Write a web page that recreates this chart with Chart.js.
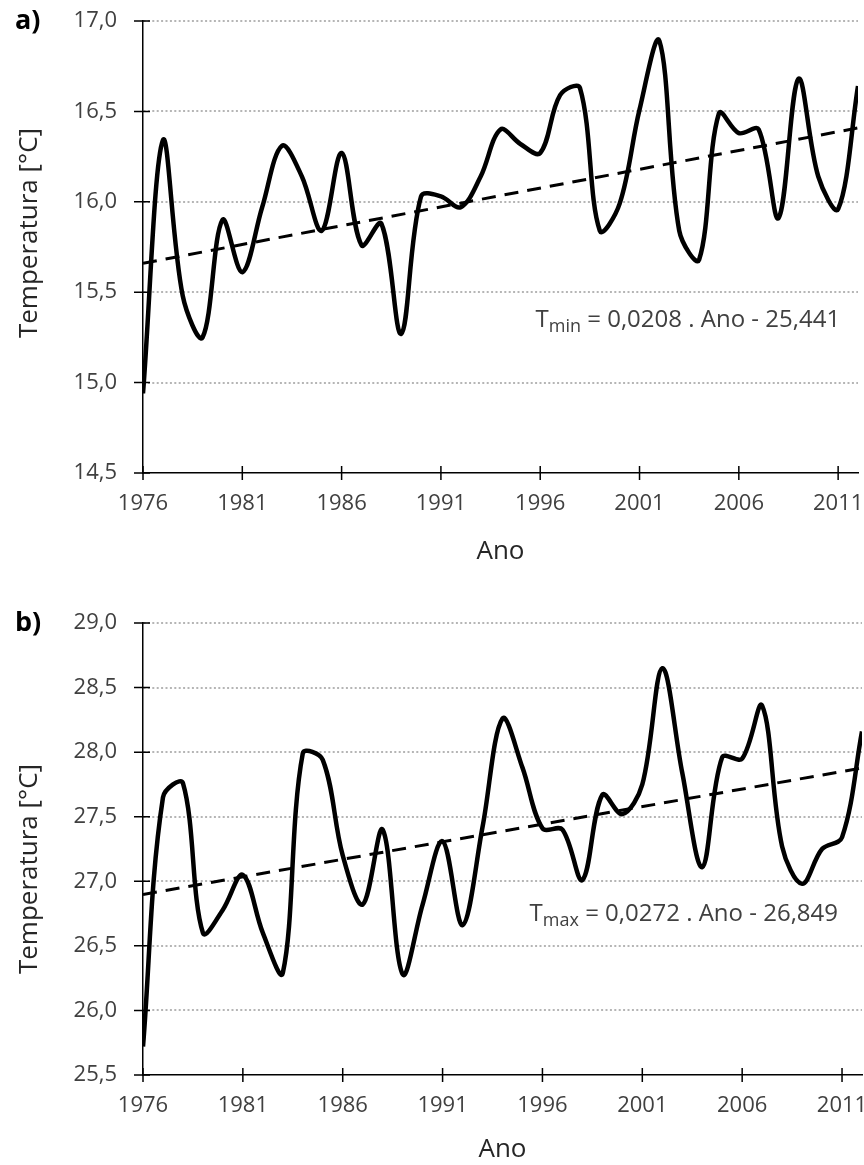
<!DOCTYPE html>
<html lang="pt">
<head>
<meta charset="utf-8">
<title>Temperatura mínima e máxima anual (1976–2012)</title>
<script src="https://cdn.jsdelivr.net/npm/chart.js@4.4.1/dist/chart.umd.min.js"></script>
<style>
  html, body { margin: 0; padding: 0; background: #fff; }
  .panel { position: absolute; left: 0; width: 864px; }
  #panel-a { top: 0; height: 582px; }
  #panel-b { top: 582px; height: 583px; }
</style>
</head>
<body>
<div class="panel" id="panel-a"><canvas id="chart-tmin"></canvas></div>
<div class="panel" id="panel-b"><canvas id="chart-tmax"></canvas></div>
<script>
// ---- Data ----
const YEARS = [
  1976, 1977, 1978, 1979, 1980, 1981, 1982, 1983, 1984, 1985,
  1986, 1987, 1988, 1989, 1990, 1991, 1992, 1993, 1994, 1995,
  1996, 1997, 1998, 1999, 2000, 2001, 2002, 2003, 2004, 2005,
  2006, 2007, 2008, 2009, 2010, 2011, 2012
];
const YEAR_TICKS = [1976, 1981, 1986, 1991, 1996, 2001, 2006, 2011];

// mean annual minimum temperature [°C]
const TMIN = [
  14.94, 16.34, 15.48, 15.25, 15.90, 15.61, 15.97, 16.31, 16.14, 15.84,
  16.27, 15.76, 15.88, 15.27, 16.03, 16.03, 15.97, 16.14, 16.40, 16.32,
  16.27, 16.59, 16.63, 15.84, 15.99, 16.51, 16.89, 15.84, 15.68, 16.49,
  16.38, 16.40, 15.91, 16.68, 16.14, 15.96, 16.64
];
// mean annual maximum temperature [°C]
const TMAX = [
  25.72, 27.65, 27.76, 26.60, 26.78, 27.05, 26.60, 26.29, 27.99, 27.94,
  27.20, 26.82, 27.40, 26.28, 26.82, 27.31, 26.66, 27.42, 28.26, 27.88,
  27.41, 27.40, 27.01, 27.67, 27.52, 27.75, 28.65, 27.84, 27.11, 27.96,
  27.95, 28.36, 27.27, 26.98, 27.25, 27.34, 28.16
];

// linear fits: [slope, intercept]
const TMIN_FIT = [0.0208, -25.441];
const TMAX_FIT = [0.0272, -26.849];

const FONT = 'Open Sans';
const fmtComma = v => v.toFixed(1).replace('.', ',');

// Excel-style ticks that cross the axis lines
const crossTicks = {
  id: 'crossTicks',
  afterDraw(chart) {
    const { ctx, scales: { x, y } } = chart;
    ctx.save();
    ctx.strokeStyle = '#000';
    ctx.lineWidth = 1.5;
    ctx.beginPath();
    x.ticks.forEach(t => {
      const px = x.getPixelForValue(t.value);
      ctx.moveTo(px, x.top - 7);
      ctx.lineTo(px, x.top + 7);
    });
    y.ticks.forEach(t => {
      const py = y.getPixelForValue(t.value);
      ctx.moveTo(y.right - 9, py);
      ctx.lineTo(y.right + 7, py);
    });
    ctx.stroke();
    ctx.restore();
  }
};

// panel letter, rotated y title and regression equation
const panelText = {
  id: 'panelText',
  afterDraw(chart, args, opts) {
    const { ctx, chartArea, scales: { x, y } } = chart;
    ctx.save();

    ctx.fillStyle = '#000';
    ctx.font = `bold 27px "${FONT}"`;
    ctx.textAlign = 'left';
    ctx.textBaseline = 'alphabetic';
    ctx.fillText(opts.letter, 15, chartArea.top + 8);

    ctx.fillStyle = '#262626';
    ctx.font = `26px "${FONT}"`;
    ctx.textAlign = 'center';
    ctx.textBaseline = 'middle';
    ctx.translate(30, (chartArea.top + chartArea.bottom) / 2 + opts.titleShift);
    ctx.rotate(-Math.PI / 2);
    ctx.fillText('Temperatura [°C]', 0, 0);
    ctx.setTransform(1, 0, 0, 1, 0, 0);

    // equation, right-aligned at a data position
    const main = `24px "${FONT}"`, sub = `18px "${FONT}"`;
    const rest = ' = ' + opts.fit[0].toFixed(4).replace('.', ',') + ' . Ano - ' +
      Math.abs(opts.fit[1]).toFixed(3).replace('.', ',');
    ctx.font = main; const wT = ctx.measureText('T').width; const wR = ctx.measureText(rest).width;
    ctx.font = sub; const wS = ctx.measureText(opts.sub).width;
    const right = x.getPixelForValue(opts.at[0]);
    const base = y.getPixelForValue(opts.at[1]);
    let cx = right - (wT + wS + wR);
    ctx.fillStyle = '#404040';
    ctx.textAlign = 'left';
    ctx.textBaseline = 'alphabetic';
    ctx.font = main; ctx.fillText('T', cx, base); cx += wT;
    ctx.font = sub; ctx.fillText(opts.sub, cx, base + 5); cx += wS;
    ctx.font = main; ctx.fillText(rest, cx, base);
    ctx.restore();
  }
};

function buildChart(canvasId, o) {
  const fitLine = [YEARS[0], YEARS[YEARS.length - 1]].map(v => ({ x: v, y: o.fit[0] * v + o.fit[1] }));
  return new Chart(document.getElementById(canvasId), {
    type: 'line',
    data: {
      datasets: [
        {
          label: o.label,
          data: YEARS.map((yr, i) => ({ x: yr, y: o.values[i] })),
          borderColor: '#000',
          borderWidth: 4.5,
          tension: 0.35,
          pointRadius: 0,
          fill: false
        },
        {
          label: 'Tendência linear',
          data: fitLine,
          borderColor: '#000',
          borderWidth: 3,
          borderDash: [14, 9],
          pointRadius: 0,
          fill: false
        }
      ]
    },
    options: {
      responsive: true,
      maintainAspectRatio: false,
      animation: false,
      layout: { padding: { top: o.padTop, right: o.padRight, left: 0, bottom: 0 } },
      plugins: {
        legend: { display: false },
        tooltip: { enabled: false },
        panelText: { letter: o.letter, sub: o.sub, fit: o.fit, at: o.eqAt, titleShift: o.titleShift }
      },
      scales: {
        x: {
          type: 'linear',
          min: 1976,
          max: 2012,
          afterBuildTicks: s => { s.ticks = YEAR_TICKS.map(v => ({ value: v })); },
          afterFit: s => { s.height = o.xHeight; s.paddingLeft = 0; s.paddingRight = 0; },
          grid: { drawOnChartArea: false, drawTicks: false },
          border: { color: '#000', width: 1.5 },
          ticks: {
            padding: 18, autoSkip: false, maxRotation: 0,
            color: '#404040', font: { family: FONT, size: 22 },
            callback: v => String(v)
          },
          title: {
            display: true, text: 'Ano', color: '#262626',
            font: { family: FONT, size: 26 },
            padding: { top: 0, bottom: o.titlePad }
          }
        },
        y: {
          min: o.yMin,
          max: o.yMax,
          ticks: {
            stepSize: 0.5, padding: 26,
            color: '#404040', font: { family: FONT, size: 22 },
            callback: v => fmtComma(v)
          },
          afterFit: s => { s.width = 143; s.paddingTop = 0; s.paddingBottom = 0; },
          grid: {
            drawTicks: false,
            lineWidth: 2,
            color: c => (c.tick && c.tick.value === o.yMin ? 'rgba(0,0,0,0)' : '#b5b5b5')
          },
          border: { color: '#000', width: 1.5, dash: [2, 2.4] }
        }
      }
    },
    plugins: [crossTicks, panelText]
  });
}

buildChart('chart-tmin', {
  label: 'Tmin', values: TMIN, fit: TMIN_FIT, letter: 'a)', sub: 'min',
  yMin: 14.5, yMax: 17.0, eqAt: [2011.1, 15.31], titleShift: -14,
  padTop: 21, padRight: 6, xHeight: 109, titlePad: 15
});

buildChart('chart-tmax', {
  label: 'Tmax', values: TMAX, fit: TMAX_FIT, letter: 'b)', sub: 'max',
  yMin: 25.5, yMax: 29.0, eqAt: [2010.8, 26.69], titleShift: 20,
  padTop: 41, padRight: 2, xHeight: 90, titlePad: 0
});
</script>
</body>
</html>
